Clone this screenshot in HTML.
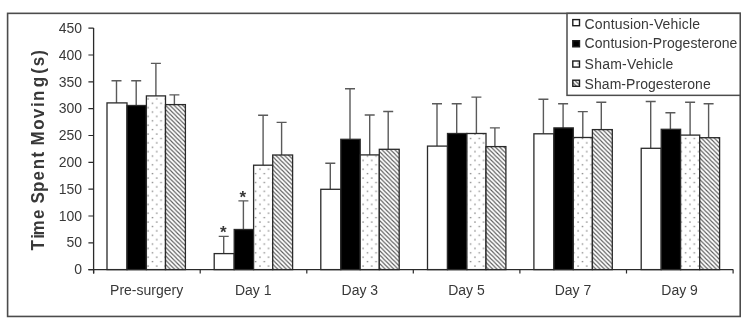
<!DOCTYPE html>
<html><head><meta charset="utf-8"><title>Time Spent Moving</title>
<style>
html,body{margin:0;padding:0;background:#fff;}
body{width:750px;height:327px;overflow:hidden;}
svg{display:block;filter:blur(0.4px);}
text{font-family:"Liberation Sans",Arial,sans-serif;fill:#383838;}
</style></head><body>
<svg width="750" height="327" viewBox="0 0 750 327">
<defs>
<pattern id="dots" width="8.6" height="8.8" patternUnits="userSpaceOnUse">
<rect width="8.6" height="8.8" fill="#fff"/>
<rect x="1.2" y="1.4" width="1.5" height="1.3" fill="#888"/>
<rect x="5.5" y="5.8" width="1.5" height="1.3" fill="#888"/>
</pattern>
<pattern id="diag" width="4.3" height="4.3" patternUnits="userSpaceOnUse">
<rect width="4.3" height="4.3" fill="#fff"/>
<path d="M-1,-1 L5.3,5.3 M-1,3.3 L1,5.3 M3.3,-1 L5.3,1" stroke="#5a5a5a" stroke-width="1.1"/>
</pattern>
</defs>
<rect width="750" height="327" fill="#fff"/>

<rect x="7.6" y="13.35" width="732.6" height="303.1" fill="none" stroke="#4c4c4c" stroke-width="1.6"/>
<path d="M93.6,28 V273.5 M88.4,269.6 H733.2" stroke="#2a2a2a" stroke-width="1.3" fill="none"/>
<path d="M88.4,269.6 H93.6 M88.4,242.8 H93.6 M88.4,216.0 H93.6 M88.4,189.1 H93.6 M88.4,162.3 H93.6 M88.4,135.5 H93.6 M88.4,108.7 H93.6 M88.4,81.9 H93.6 M88.4,55.0 H93.6 M88.4,28.2 H93.6 " stroke="#2a2a2a" stroke-width="1.2" fill="none"/>
<text transform="translate(82,274.2) scale(1,1.05)" font-size="14" text-anchor="end">0</text>
<text transform="translate(82,247.4) scale(1,1.05)" font-size="14" text-anchor="end">50</text>
<text transform="translate(82,220.6) scale(1,1.05)" font-size="14" text-anchor="end">100</text>
<text transform="translate(82,193.7) scale(1,1.05)" font-size="14" text-anchor="end">150</text>
<text transform="translate(82,166.9) scale(1,1.05)" font-size="14" text-anchor="end">200</text>
<text transform="translate(82,140.1) scale(1,1.05)" font-size="14" text-anchor="end">250</text>
<text transform="translate(82,113.3) scale(1,1.05)" font-size="14" text-anchor="end">300</text>
<text transform="translate(82,86.5) scale(1,1.05)" font-size="14" text-anchor="end">350</text>
<text transform="translate(82,59.6) scale(1,1.05)" font-size="14" text-anchor="end">400</text>
<text transform="translate(82,32.8) scale(1,1.05)" font-size="14" text-anchor="end">450</text>
<path d="M93.6,269.6 V273.6 M200.2,269.6 V273.6 M306.8,269.6 V273.6 M413.3,269.6 V273.6 M519.9,269.6 V273.6 M626.5,269.6 V273.6 M733.1,269.6 V273.6 " stroke="#2a2a2a" stroke-width="1.2" fill="none"/>
<path d="M116.5,102.9 V80.7 M111.5,80.7 H121.5" stroke="#5a5a5a" stroke-width="1.4" fill="none"/>
<path d="M136.2,105.5 V80.7 M131.2,80.7 H141.2" stroke="#5a5a5a" stroke-width="1.4" fill="none"/>
<path d="M155.9,95.9 V63.4 M150.9,63.4 H160.9" stroke="#5a5a5a" stroke-width="1.4" fill="none"/>
<path d="M174.4,104.6 V94.9 M169.4,94.9 H179.4" stroke="#5a5a5a" stroke-width="1.4" fill="none"/>
<rect x="107.0" y="102.9" width="20.0" height="166.7" fill="#fff" stroke="#2a2a2a" stroke-width="1.3"/>
<rect x="127.0" y="105.5" width="19.4" height="164.1" fill="#000" stroke="#2a2a2a" stroke-width="1.3"/>
<rect x="146.4" y="95.9" width="19.1" height="173.7" fill="url(#dots)" stroke="#2a2a2a" stroke-width="1.3"/>
<rect x="165.5" y="104.6" width="19.9" height="165.0" fill="url(#diag)" stroke="#2a2a2a" stroke-width="1.3"/>
<text transform="translate(146.6,295.3) scale(1,1.05)" font-size="14" text-anchor="middle">Pre-surgery</text>
<path d="M223.7,253.6 V236.4 M218.7,236.4 H228.7" stroke="#5a5a5a" stroke-width="1.4" fill="none"/>
<path d="M243.4,229.5 V200.9 M238.4,200.9 H248.4" stroke="#5a5a5a" stroke-width="1.4" fill="none"/>
<path d="M263.1,165.2 V115.2 M258.1,115.2 H268.1" stroke="#5a5a5a" stroke-width="1.4" fill="none"/>
<path d="M281.6,155.0 V122.4 M276.6,122.4 H286.6" stroke="#5a5a5a" stroke-width="1.4" fill="none"/>
<rect x="214.2" y="253.6" width="20.0" height="16.0" fill="#fff" stroke="#2a2a2a" stroke-width="1.3"/>
<rect x="234.2" y="229.5" width="19.4" height="40.1" fill="#000" stroke="#2a2a2a" stroke-width="1.3"/>
<rect x="253.6" y="165.2" width="19.1" height="104.4" fill="url(#dots)" stroke="#2a2a2a" stroke-width="1.3"/>
<rect x="272.7" y="155.0" width="19.9" height="114.6" fill="url(#diag)" stroke="#2a2a2a" stroke-width="1.3"/>
<text transform="translate(253.2,295.3) scale(1,1.05)" font-size="14" text-anchor="middle">Day 1</text>
<path d="M330.3,189.3 V163.3 M325.3,163.3 H335.3" stroke="#5a5a5a" stroke-width="1.4" fill="none"/>
<path d="M350.0,139.3 V88.8 M345.0,88.8 H355.0" stroke="#5a5a5a" stroke-width="1.4" fill="none"/>
<path d="M369.7,154.9 V115.0 M364.7,115.0 H374.7" stroke="#5a5a5a" stroke-width="1.4" fill="none"/>
<path d="M388.2,149.3 V111.5 M383.2,111.5 H393.2" stroke="#5a5a5a" stroke-width="1.4" fill="none"/>
<rect x="320.8" y="189.3" width="20.0" height="80.3" fill="#fff" stroke="#2a2a2a" stroke-width="1.3"/>
<rect x="340.8" y="139.3" width="19.4" height="130.3" fill="#000" stroke="#2a2a2a" stroke-width="1.3"/>
<rect x="360.2" y="154.9" width="19.1" height="114.7" fill="url(#dots)" stroke="#2a2a2a" stroke-width="1.3"/>
<rect x="379.3" y="149.3" width="19.9" height="120.3" fill="url(#diag)" stroke="#2a2a2a" stroke-width="1.3"/>
<text transform="translate(359.8,295.3) scale(1,1.05)" font-size="14" text-anchor="middle">Day 3</text>
<path d="M437.0,146.1 V103.8 M432.0,103.8 H442.0" stroke="#5a5a5a" stroke-width="1.4" fill="none"/>
<path d="M456.7,133.5 V103.8 M451.7,103.8 H461.7" stroke="#5a5a5a" stroke-width="1.4" fill="none"/>
<path d="M476.4,133.5 V97.1 M471.4,97.1 H481.4" stroke="#5a5a5a" stroke-width="1.4" fill="none"/>
<path d="M494.9,146.6 V127.9 M489.9,127.9 H499.9" stroke="#5a5a5a" stroke-width="1.4" fill="none"/>
<rect x="427.5" y="146.1" width="20.0" height="123.5" fill="#fff" stroke="#2a2a2a" stroke-width="1.3"/>
<rect x="447.5" y="133.5" width="19.4" height="136.1" fill="#000" stroke="#2a2a2a" stroke-width="1.3"/>
<rect x="466.9" y="133.5" width="19.1" height="136.1" fill="url(#dots)" stroke="#2a2a2a" stroke-width="1.3"/>
<rect x="486.0" y="146.6" width="19.9" height="123.0" fill="url(#diag)" stroke="#2a2a2a" stroke-width="1.3"/>
<text transform="translate(466.4,295.3) scale(1,1.05)" font-size="14" text-anchor="middle">Day 5</text>
<path d="M543.4,133.8 V99.3 M538.4,99.3 H548.4" stroke="#5a5a5a" stroke-width="1.4" fill="none"/>
<path d="M563.1,127.9 V103.8 M558.1,103.8 H568.1" stroke="#5a5a5a" stroke-width="1.4" fill="none"/>
<path d="M582.8,137.5 V111.6 M577.8,111.6 H587.8" stroke="#5a5a5a" stroke-width="1.4" fill="none"/>
<path d="M601.3,129.6 V102.3 M596.3,102.3 H606.3" stroke="#5a5a5a" stroke-width="1.4" fill="none"/>
<rect x="533.9" y="133.8" width="20.0" height="135.8" fill="#fff" stroke="#2a2a2a" stroke-width="1.3"/>
<rect x="553.9" y="127.9" width="19.4" height="141.7" fill="#000" stroke="#2a2a2a" stroke-width="1.3"/>
<rect x="573.3" y="137.5" width="19.1" height="132.1" fill="url(#dots)" stroke="#2a2a2a" stroke-width="1.3"/>
<rect x="592.4" y="129.6" width="19.9" height="140.0" fill="url(#diag)" stroke="#2a2a2a" stroke-width="1.3"/>
<text transform="translate(573.0,295.3) scale(1,1.05)" font-size="14" text-anchor="middle">Day 7</text>
<path d="M650.7,148.3 V101.5 M645.7,101.5 H655.7" stroke="#5a5a5a" stroke-width="1.4" fill="none"/>
<path d="M670.4,129.3 V112.8 M665.4,112.8 H675.4" stroke="#5a5a5a" stroke-width="1.4" fill="none"/>
<path d="M690.1,135.1 V102.3 M685.1,102.3 H695.1" stroke="#5a5a5a" stroke-width="1.4" fill="none"/>
<path d="M708.6,137.7 V103.8 M703.6,103.8 H713.6" stroke="#5a5a5a" stroke-width="1.4" fill="none"/>
<rect x="641.2" y="148.3" width="20.0" height="121.3" fill="#fff" stroke="#2a2a2a" stroke-width="1.3"/>
<rect x="661.2" y="129.3" width="19.4" height="140.3" fill="#000" stroke="#2a2a2a" stroke-width="1.3"/>
<rect x="680.6" y="135.1" width="19.1" height="134.5" fill="url(#dots)" stroke="#2a2a2a" stroke-width="1.3"/>
<rect x="699.7" y="137.7" width="19.9" height="131.9" fill="url(#diag)" stroke="#2a2a2a" stroke-width="1.3"/>
<text transform="translate(679.6,295.3) scale(1,1.05)" font-size="14" text-anchor="middle">Day 9</text>
<text x="219.9" y="238" font-size="17" font-weight="bold">*</text>
<text x="239.6" y="203.3" font-size="17" font-weight="bold">*</text>
<text transform="translate(44.4,252) rotate(-90) scale(1,1.09)" font-size="17" font-weight="bold" x="1.5 13.2 16.5 32.9 37.9 48.5 59.9 71.5 82.8 94.6 99.6 106.4 122.3 133.8 144.9 151.1 164.7 169.7 178.3 185.7 196.3" y="0">Time Spent Moving (s)</text>
<rect x="567" y="13.35" width="173.2" height="82" fill="#fff" stroke="#4c4c4c" stroke-width="1.5"/>
<rect x="572.8" y="19.6" width="6.7" height="6.1" fill="#fff" stroke="#1c1c1c" stroke-width="1.4"/>
<text transform="translate(584.6,28.9) scale(1,1.04)" font-size="14" textLength="115.4" lengthAdjust="spacing">Contusion-Vehicle</text>
<rect x="572.8" y="40.7" width="6.7" height="6.1" fill="#000" stroke="#1c1c1c" stroke-width="1.4"/>
<text transform="translate(584.6,47.9) scale(1,1.04)" font-size="14" textLength="152.8" lengthAdjust="spacing">Contusion-Progesterone</text>
<rect x="572.8" y="61.0" width="6.7" height="6.1" fill="url(#dots)" stroke="#1c1c1c" stroke-width="1.4"/>
<text transform="translate(584.6,68.6) scale(1,1.04)" font-size="14" textLength="88.8" lengthAdjust="spacing">Sham-Vehicle</text>
<rect x="572.8" y="80.2" width="6.7" height="6.1" fill="url(#diag)" stroke="#1c1c1c" stroke-width="1.4"/>
<text transform="translate(584.6,88.6) scale(1,1.04)" font-size="14" textLength="126.1" lengthAdjust="spacing">Sham-Progesterone</text>
</svg></body></html>
